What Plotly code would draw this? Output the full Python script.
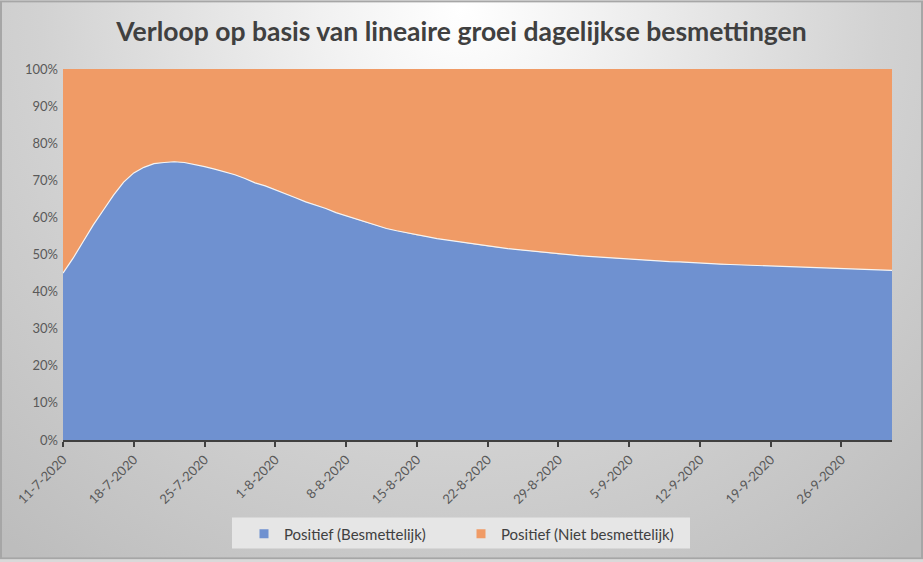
import urllib.parse
import pandas as pd
import plotly.graph_objects as go

# ---- data ----
start_date = "2020-07-11"
n_days = 83
besmettelijk = [
    45.0, 49.0, 53.5, 58.0, 62.0, 66.0, 69.5, 72.0, 73.5, 74.5,
    74.8, 75.0, 74.8, 74.3, 73.7, 73.0, 72.3, 71.5, 70.5, 69.3,
    68.5, 67.5, 66.4, 65.3, 64.2, 63.4, 62.4, 61.3, 60.4, 59.5,
    58.6, 57.8, 57.0, 56.4, 55.8, 55.2, 54.8, 54.3, 53.9, 53.5,
    53.0, 52.6, 52.2, 51.9, 51.6, 51.3, 51.0, 50.7, 50.4, 50.1,
    49.9, 49.7, 49.5, 49.3, 49.1, 48.9, 48.8, 48.6, 48.4, 48.3,
    48.1, 48.0, 47.8, 47.7, 47.6, 47.4, 47.3, 47.2, 47.1, 47.0,
    46.9, 46.8, 46.7, 46.6, 46.5, 46.4, 46.3, 46.2, 46.1, 46.0,
    45.9, 45.8, 45.7,
]
niet_besmettelijk = [
    55.0, 51.0, 46.5, 42.0, 38.0, 34.0, 30.5, 28.0, 26.5, 25.5,
    25.2, 25.0, 25.2, 25.7, 26.3, 27.0, 27.7, 28.5, 29.5, 30.7,
    31.5, 32.5, 33.6, 34.7, 35.8, 36.6, 37.6, 38.7, 39.6, 40.5,
    41.4, 42.2, 43.0, 43.6, 44.2, 44.8, 45.2, 45.7, 46.1, 46.5,
    47.0, 47.4, 47.8, 48.1, 48.4, 48.7, 49.0, 49.3, 49.6, 49.9,
    50.1, 50.3, 50.5, 50.7, 50.9, 51.1, 51.2, 51.4, 51.6, 51.7,
    51.9, 52.0, 52.2, 52.3, 52.4, 52.6, 52.7, 52.8, 52.9, 53.0,
    53.1, 53.2, 53.3, 53.4, 53.5, 53.6, 53.7, 53.8, 53.9, 54.0,
    54.1, 54.2, 54.3,
]
tick_dates = ["2020-07-11", "2020-07-18", "2020-07-25", "2020-08-01", "2020-08-08",
              "2020-08-15", "2020-08-22", "2020-08-29", "2020-09-05", "2020-09-12",
              "2020-09-19", "2020-09-26"]
tick_labels = ["11-7-2020", "18-7-2020", "25-7-2020", "1-8-2020", "8-8-2020",
               "15-8-2020", "22-8-2020", "29-8-2020", "5-9-2020", "12-9-2020",
               "19-9-2020", "26-9-2020"]
y_ticks = [0, 10, 20, 30, 40, 50, 60, 70, 80, 90, 100]
y_labels = ["0%", "10%", "20%", "30%", "40%", "50%", "60%", "70%", "80%", "90%", "100%"]
title = "Verloop op basis van lineaire groei dagelijkse besmettingen"
name_a = "Positief (Besmettelijk)"
name_b = "Positief (Niet besmettelijk)"
color_a = "#6f91d0"
color_b = "#f09b66"

dates = pd.date_range(start_date, periods=n_days, freq="D")

W, H = 923, 562
ML, MR, MT, MB = 63, 31, 69, 120
pw, ph = W - ML - MR, H - MT - MB


def px_x(p):
    return (p - ML) / pw


def px_y(p):
    return (H - MB - p) / ph


svg = (
    f"<svg xmlns='http://www.w3.org/2000/svg' width='{W}' height='{H}' viewBox='0 0 {W} {H}' preserveAspectRatio='none'>"
    "<defs><radialGradient id='g' gradientUnits='userSpaceOnUse' cx='461' cy='10' r='700'>"
    "<stop offset='0' stop-color='#ffffff'/>"
    "<stop offset='0.2' stop-color='#f1f1f1'/>"
    "<stop offset='0.6' stop-color='#d2d2d2'/>"
    "<stop offset='1' stop-color='#bdbdbd'/>"
    "</radialGradient></defs>"
    f"<rect x='0' y='0' width='{W}' height='{H}' fill='url(#g)'/>"
    f"<rect x='1' y='1' width='{W-2}' height='{H-2}' fill='none' stroke='#a6a6a6' stroke-width='2'/>"
    "</svg>"
)
src = "data:image/svg+xml;charset=utf-8," + urllib.parse.quote(svg)

fig = go.Figure()
fig.add_trace(go.Scatter(
    x=dates, y=besmettelijk, name=name_a, mode="none", showlegend=False,
    stackgroup="one", fillcolor=color_a, hoverinfo="skip",
))
fig.add_trace(go.Scatter(
    x=dates, y=niet_besmettelijk, name=name_b, mode="none", showlegend=False,
    stackgroup="one", fillcolor=color_b, hoverinfo="skip",
))
# thin light boundary line between the two areas
fig.add_trace(go.Scatter(
    x=dates, y=besmettelijk, mode="lines", showlegend=False,
    line=dict(color="#f4f4f4", width=1.2), hoverinfo="skip",
))
# legend entries with square swatches
for nm, col in [(name_a, color_a), (name_b, color_b)]:
    fig.add_trace(go.Scatter(
        x=[None], y=[None], mode="markers", name=nm,
        marker=dict(symbol="square", size=9, color=col),
    ))

fig.update_layout(
    width=W, height=H,
    margin=dict(l=ML, r=MR, t=MT, b=MB),
    paper_bgcolor="#d9d9d9",
    plot_bgcolor="rgba(0,0,0,0)",
    font=dict(family="Lato", color="#595959", size=13),
    title=dict(text=title, x=0.5, xanchor="center", y=1 - 32 / H, yanchor="middle",
               font=dict(family="Lato", size=26.5, color="#404040", weight="bold")),
    showlegend=True,
    legend=dict(orientation="h", x=px_x(244), xanchor="left", y=px_y(520),
                yanchor="top", bgcolor="rgba(0,0,0,0)",
                font=dict(family="Lato", size=15, color="#404040"),
                traceorder="normal", itemwidth=30, entrywidth=172,
                tracegroupgap=0),
    shapes=[dict(type="rect", xref="paper", yref="paper",
                 x0=px_x(232), x1=px_x(690), y0=px_y(551), y1=px_y(520),
                 fillcolor="#e6e6e6", line=dict(width=0), layer="below")],
    images=[dict(source=src, xref="paper", yref="paper",
                 x=-ML / pw, y=1 + MT / ph, sizex=W / pw, sizey=H / ph,
                 xanchor="left", yanchor="top", sizing="stretch", layer="below")],
)
fig.update_xaxes(
    range=[dates[0], dates[-1]],
    tickvals=tick_dates, ticktext=tick_labels, tickangle=-45,
    showgrid=False, showline=True, linecolor="#404040", linewidth=2,
    ticks="outside", ticklen=5, tickcolor="#404040", tickwidth=1.5,
    tickfont=dict(size=13, color="#595959"), layer="above traces",
)
fig.update_yaxes(
    range=[0, 100], tickvals=y_ticks, ticktext=y_labels,
    showgrid=True, gridcolor="rgba(90,90,90,0.10)", gridwidth=1,
    showline=False, zeroline=False, ticks="", ticklabelstandoff=4,
    tickfont=dict(size=13, color="#595959"), layer="above traces",
)

fig.write_html("out.html")
